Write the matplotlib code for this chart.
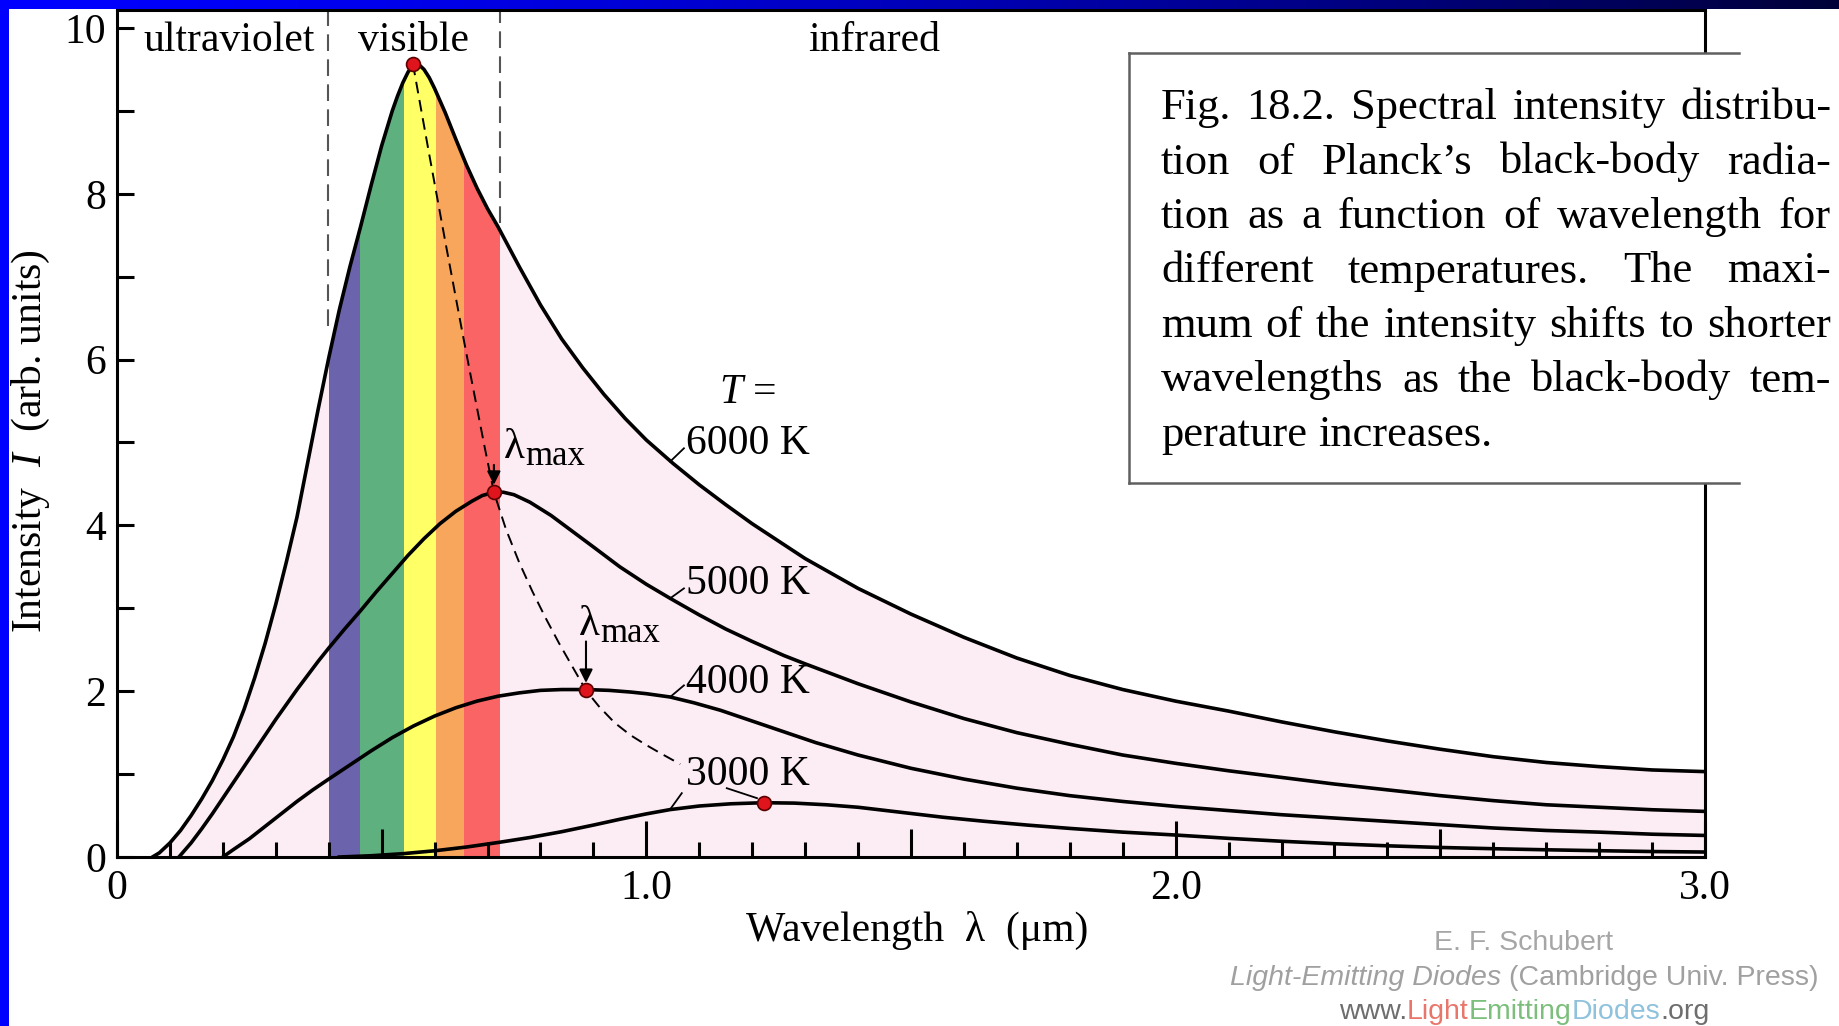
import numpy as np
import matplotlib
matplotlib.use("Agg")
import matplotlib.pyplot as plt
from matplotlib.patches import Rectangle
from matplotlib.lines import Line2D

plt.rcParams['font.family'] = ['Liberation Serif', 'DejaVu Serif']
plt.rcParams['mathtext.fontset'] = 'custom'
plt.rcParams['mathtext.rm'] = 'Liberation Serif'
plt.rcParams['mathtext.it'] = 'Liberation Serif:italic'

# curves: wavelength (um) and intensity (arb. units)
lam_6000 = [0.067, 0.08, 0.10, 0.12, 0.14, 0.16, 0.18, 0.20, 0.22, 0.24, 0.26, 0.28,
            0.30, 0.32, 0.34, 0.36, 0.38, 0.40, 0.42, 0.44, 0.46, 0.48, 0.50, 0.52,
            0.53, 0.54, 0.55, 0.56, 0.57, 0.58, 0.59, 0.60, 0.62, 0.64, 0.66, 0.68,
            0.70, 0.72, 0.76, 0.80, 0.84, 0.88, 0.92, 0.96, 1.0, 1.05, 1.1, 1.15,
            1.2, 1.3, 1.4, 1.5, 1.6, 1.7, 1.8, 1.9, 2.0, 2.1, 2.2, 2.3,
            2.4, 2.5, 2.6, 2.7, 2.8, 2.9, 3.0]
int_6000 = [0.0, 0.05, 0.17, 0.32, 0.5, 0.7, 0.92, 1.17, 1.45, 1.78, 2.16, 2.58,
            3.05, 3.56, 4.1, 4.75, 5.4, 6.02, 6.6, 7.12, 7.6, 8.1, 8.58, 9.0,
            9.18, 9.34, 9.47, 9.56, 9.56, 9.5, 9.4, 9.27, 8.98, 8.66, 8.35, 8.07,
            7.82, 7.6, 7.12, 6.66, 6.25, 5.9, 5.58, 5.29, 5.03, 4.75, 4.49, 4.25,
            4.02, 3.6, 3.24, 2.93, 2.65, 2.4, 2.19, 2.02, 1.88, 1.76, 1.63, 1.51,
            1.4, 1.3, 1.21, 1.14, 1.09, 1.05, 1.03]

lam_5000 = [0.117, 0.14, 0.16, 0.18, 0.20, 0.22, 0.24, 0.26, 0.28, 0.30, 0.32, 0.34,
            0.36, 0.38, 0.40, 0.43, 0.46, 0.49, 0.52, 0.55, 0.58, 0.61, 0.64, 0.67,
            0.69, 0.712, 0.73, 0.75, 0.78, 0.82, 0.86, 0.9, 0.95, 1.0, 1.045, 1.1,
            1.15, 1.2, 1.26, 1.3, 1.4, 1.5, 1.6, 1.7, 1.8, 1.9, 2.0, 2.1,
            2.2, 2.3, 2.4, 2.5, 2.6, 2.7, 2.8, 2.9, 3.0]
int_5000 = [0.0, 0.17, 0.34, 0.52, 0.71, 0.9, 1.09, 1.28, 1.47, 1.66, 1.84, 2.02,
            2.19, 2.36, 2.52, 2.75, 2.97, 3.2, 3.42, 3.64, 3.84, 4.02, 4.17, 4.29,
            4.36, 4.40, 4.40, 4.37, 4.28, 4.12, 3.93, 3.74, 3.5, 3.29, 3.12, 2.92,
            2.75, 2.6, 2.43, 2.33, 2.09, 1.87, 1.67, 1.5, 1.36, 1.23, 1.13, 1.04,
            0.96, 0.88, 0.81, 0.74, 0.68, 0.63, 0.6, 0.57, 0.55]

lam_4000 = [0.2, 0.22, 0.25, 0.28, 0.31, 0.34, 0.37, 0.40, 0.44, 0.48, 0.52, 0.56,
            0.60, 0.64, 0.68, 0.72, 0.76, 0.80, 0.84, 0.886, 0.93, 0.97, 1.0, 1.045,
            1.09, 1.14, 1.2, 1.26, 1.32, 1.4, 1.5, 1.6, 1.7, 1.8, 1.9, 2.0,
            2.1, 2.2, 2.3, 2.4, 2.5, 2.6, 2.7, 2.8, 2.9, 3.0]
int_4000 = [0.0, 0.09, 0.22, 0.37, 0.52, 0.67, 0.81, 0.94, 1.11, 1.28, 1.44, 1.58,
            1.7, 1.8, 1.88, 1.94, 1.98, 2.01, 2.02, 2.02, 2.01, 1.99, 1.97, 1.93,
            1.86, 1.77, 1.64, 1.51, 1.38, 1.23, 1.07, 0.94, 0.83, 0.74, 0.67, 0.61,
            0.56, 0.51, 0.47, 0.43, 0.39, 0.35, 0.32, 0.3, 0.275, 0.26]

lam_3000 = [0.42, 0.48, 0.54, 0.60, 0.66, 0.72, 0.78, 0.84, 0.9, 0.95, 1.0, 1.045,
            1.1, 1.16, 1.222, 1.28, 1.34, 1.4, 1.48, 1.56, 1.64, 1.72, 1.8, 1.9,
            2.0, 2.1, 2.2, 2.3, 2.4, 2.5, 2.6, 2.7, 2.8, 2.9, 3.0]
int_3000 = [0.0, 0.015, 0.04, 0.075, 0.12, 0.175, 0.235, 0.305, 0.385, 0.455, 0.52, 0.572,
            0.615, 0.642, 0.655, 0.65, 0.63, 0.6, 0.54, 0.48, 0.43, 0.385, 0.345, 0.3,
            0.265, 0.225, 0.19, 0.16, 0.135, 0.115, 0.1, 0.087, 0.076, 0.066, 0.06]

curves = [(lam_6000, int_6000), (lam_5000, int_5000), (lam_4000, int_4000), (lam_3000, int_3000)]

# maxima and the dashed line through them
peak_lam = [0.559, 0.712, 0.886, 1.222]
peak_int = [9.57, 4.40, 2.01, 0.655]
locus_lam = [0.559, 0.575, 0.59, 0.605, 0.62, 0.635, 0.65, 0.665, 0.68, 0.695, 0.712,
             0.735, 0.76, 0.785, 0.81, 0.835, 0.86, 0.886, 0.91, 0.94, 0.97, 1.0,
             1.03, 1.064]
locus_int = [9.57, 9.0, 8.47, 7.95, 7.43, 6.92, 6.41, 5.91, 5.42, 4.93, 4.40,
             3.95, 3.55, 3.2, 2.88, 2.58, 2.3, 2.01, 1.82, 1.62, 1.47, 1.35,
             1.24, 1.12]

# spectrum bands
band_edges = [0.40, 0.46, 0.543, 0.603, 0.656, 0.723]
band_colors = ['#6c63ad', '#5fb07f', '#ffff66', '#f8a65c', '#fb6464']
pink = '#fcedf4'

region_names = ['ultraviolet', 'visible', 'infrared']
region_x = [0.212, 0.56, 1.431]
region_edges = [0.398, 0.724]
region_edge_floor = [6.4, 7.65]

temp_names = ['6000 K', '5000 K', '4000 K', '3000 K']
temp_label_y = [4.98, 3.30, 2.10, 0.99]
leader_x = [(1.045, 1.071), (1.045, 1.071), (1.045, 1.071), (1.045, 1.067), (1.152, 1.209)]
leader_y = [(4.77, 4.93), (3.12, 3.24), (1.93, 2.07), (0.575, 0.77), (0.83, 0.71)]

# lambda_max marks: label baseline, arrow start, arrow tip
lmax_lam = [0.712, 0.886]
lmax_text_x = [0.730, 0.872]
lmax_base = [4.81, 2.68]
lmax_arrow = [(4.73, 4.49), (2.60, 2.10)]

caption = ["Fig. 18.2. Spectral intensity distribu-",
           "tion of Planck\u2019s black-body radia-",
           "tion as a function of wavelength for",
           "different temperatures. The maxi-",
           "mum of the intensity shifts to shorter",
           "wavelengths as the black-body tem-",
           "perature increases."]

W, H = 1839, 1026
fig = plt.figure(figsize=(W / 100, H / 100), dpi=100)
renderer = fig.canvas.get_renderer()


def fxy(px, py):
    return px / W, 1 - py / H


def width_of(t):
    return t.get_window_extent(renderer).width


x0, y0 = fxy(117, 857)
x1, y1 = fxy(1705, 10)
ax = fig.add_axes([x0, y0, x1 - x0, y1 - y0])
ax.set_xlim(0, 3.0)
ax.set_ylim(0, 847 / 82.9)

# pink area under the 6000 K curve, coloured bands clipped to it
fill = ax.fill_between(lam_6000, int_6000, color=pink, lw=0, zorder=1)
clip = fill.get_paths()[0]
for lo, hi, c in zip(band_edges[:-1], band_edges[1:], band_colors):
    span = ax.axvspan(lo, hi, color=c, lw=0, zorder=1.5)
    span.set_clip_path(clip, ax.transData)

ax.vlines(region_edges, region_edge_floor, 11, colors='#555555', lw=1.5,
          linestyles=(0, (8, 4)), zorder=2)
for name, x in zip(region_names, region_x):
    ax.text(x, 9.72, name, ha='center', va='baseline', fontsize=30, zorder=5)

for lam, inten in curves:
    ax.plot(lam, inten, color='black', lw=2.6, solid_joinstyle='round', zorder=3)

ax.plot(locus_lam, locus_int, color='black', lw=1.4, dashes=(6, 3.5), zorder=2.9)
ax.plot(peak_lam, peak_int, 'o', ms=10, mfc='#e0141c', mec='#5a0000', mew=1.2, zorder=4)

for lx, ly in zip(leader_x, leader_y):
    ax.plot(lx, ly, color='black', lw=1.3, zorder=4)

for lam, tx, base, (atop, atip) in zip(lmax_lam, lmax_text_x, lmax_base, lmax_arrow):
    ax.annotate('', xy=(lam, atip), xytext=(lam, atop),
                arrowprops=dict(arrowstyle='-|>', color='black', lw=1.5,
                                mutation_scale=20, shrinkA=0, shrinkB=0), zorder=4)
    lt = ax.text(tx, base, '\u03bb', fontsize=31, va='baseline', ha='left', zorder=5)
    lw_pt = width_of(lt) * 72 / 100
    ax.annotate('max', xy=(tx, base), xytext=(lw_pt + 0.5, -5), textcoords='offset points',
                fontsize=25, va='baseline', ha='left', zorder=5)

ax.text(1.137, 5.6, '$T$ =', fontsize=30, va='center', ha='left', zorder=5)
for name, y in zip(temp_names, temp_label_y):
    ax.text(1.075, y, name, fontsize=30, va='center', ha='left', zorder=5)

# axes and ticks
for s in ax.spines.values():
    s.set_linewidth(2.2)
ax.set_xticks([0, 1, 2, 3])
ax.set_xticklabels(['0', '1.0', '2.0', '3.0'])
ax.set_xticks(np.arange(1, 30) / 10, minor=True)
ax.set_yticks([0, 2, 4, 6, 8, 10])
ax.set_yticks([1, 3, 5, 7, 9], minor=True)
ax.tick_params(which='both', direction='in', width=2.2, labelsize=30)
ax.tick_params(axis='x', which='major', length=26, pad=9)
ax.tick_params(axis='x', which='minor', length=11)
ax.tick_params(axis='y', which='both', length=12, pad=8)
for t, loc in zip(ax.xaxis.get_minor_ticks(), ax.xaxis.get_minorticklocs()):
    if abs(loc * 2 - round(loc * 2)) < 1e-6:
        t.tick1line.set_markersize(20)

ax.set_xlabel('Wavelength  \u03bb  (\u03bcm)', fontsize=30, va='center')
ax.xaxis.set_label_coords(0.504, -0.087)
ax.set_ylabel('Intensity  $I$  (arb. units)', fontsize=30, va='center')
ax.yaxis.set_label_coords((31 - 117) / 1588, (857 - 441) / 847)

# caption box
bx0, bx1, by0, by1 = 1129, 1739, 53, 483
fig.add_artist(Rectangle(fxy(bx0, by1), (bx1 - bx0) / W, (by1 - by0) / H,
                         facecolor='white', edgecolor='none', zorder=1))
box_col = '#606060'
for xs, ys in [((bx0, bx1), (by0, by0)), ((bx0, bx1), (by1, by1)), ((bx0, bx0), (by0, by1))]:
    fig.add_artist(Line2D([x / W for x in xs], [1 - y / H for y in ys],
                          color=box_col, lw=1.8, zorder=2))


def space_of(**kw):
    a = fig.text(0, 0, 'a a', **kw)
    b = fig.text(0, 0, 'aa', **kw)
    w = width_of(a) - width_of(b)
    a.remove()
    b.remove()
    return w


cap_kw = dict(fontsize=32, va='baseline', ha='left', zorder=3)
cap_space = space_of(**cap_kw)
left, right = 1161, 1831
for i, line in enumerate(caption):
    base = 119 + i * 54.5
    arts = [fig.text(0, 0, w, **cap_kw) for w in line.split()]
    widths = [width_of(a) for a in arts]
    if i < len(caption) - 1:
        gap = (right - left - sum(widths)) / (len(arts) - 1)
    else:
        gap = cap_space
    x = left
    for a, w in zip(arts, widths):
        a.set_position(fxy(x, base))
        x += w + gap

# credit lines
sans = dict(family=['Liberation Sans', 'DejaVu Sans'], fontsize=20.5, va='center', ha='left', zorder=3)
credit_lines = [
    (943, [('E. F. Schubert', 'normal', '#a6a6a6', False)]),
    (978, [('Light-Emitting Diodes', 'italic', '#a0a0a0', True),
           ('(Cambridge Univ. Press)', 'normal', '#a0a0a0', False)]),
    (1012, [('www.', 'normal', '#6e6e6e', False), ('Light', 'normal', '#e8766a', False),
            ('Emitting', 'normal', '#7cbf7c', False), ('Diodes', 'normal', '#8fc2dc', False),
            ('.org', 'normal', '#6e6e6e', False)]),
]
sp = space_of(**sans)
for yline, pieces in credit_lines:
    arts, widths = [], []
    for txt, style, col, trail in pieces:
        a = fig.text(0, 0, txt, style=style, color=col, **sans)
        arts.append(a)
        widths.append(width_of(a) + (sp if trail else 0))
    x = 1524 - sum(widths) / 2
    for a, w in zip(arts, widths):
        a.set_position(fxy(x, yline))
        x += w

# blue slide frame
bar = fig.add_axes([0, 1 - 9 / H, 1, 9 / H])
t = np.linspace(0, 1, 400)
grad = np.zeros((1, 400, 3))
grad[0, :, 2] = 1 - 0.78 * t ** 1.5
bar.imshow(grad, aspect='auto', extent=(0, 1, 0, 1))
bar.set_axis_off()
fig.add_artist(Rectangle((0, 0), 9 / W, 1, facecolor='#0000ff', edgecolor='none', zorder=5))

fig.savefig('out.png', dpi=100)
